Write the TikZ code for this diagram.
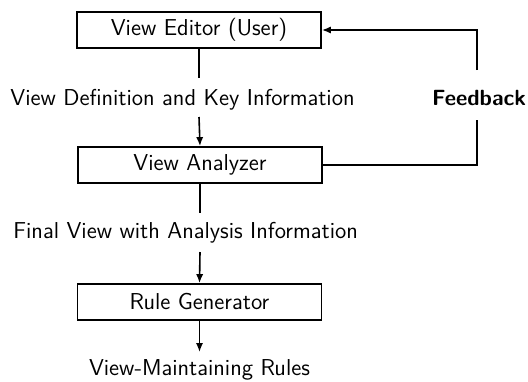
\documentclass[tikz,border=0pt]{standalone}
\usetikzlibrary{arrows.meta}
\begin{document}
\begin{tikzpicture}[x=0.5pt,y=-0.5pt,
  every node/.style={font=\fontsize{11.5}{14}\selectfont\sffamily},
  blk/.style={draw,line width=0.9pt,minimum width=122pt,minimum height=18pt,inner sep=0pt},
  lbl/.style={inner sep=0pt},
  conn/.style={line width=0.8pt},
  arr/.style={conn,-{Latex[length=4.5pt,width=3.6pt]}}]
\useasboundingbox (0,0) rectangle (528,381);
\node[blk] (ed) at (199,30) {View Editor (User)};
\node[blk] (an) at (200,165) {View Analyzer};
\node[blk] (rg) at (199.5,302) {Rule Generator};
\node[lbl,anchor=base west] (l1) at (10,105) {View Definition and Key Information};
\node[lbl,anchor=base,font=\fontsize{11}{14}\selectfont\sffamily\bfseries] (fb) at (479,105) {Feedback};
\node[lbl,anchor=base west] (l2) at (13,238) {Final View with Analysis Information};
\node[lbl,anchor=base] (l3) at (199.5,375) {View-Maintaining Rules};
\coordinate (a1) at (199,78);
\coordinate (a2) at (199,117);
\coordinate (b1) at (200,213);
\coordinate (b2) at (200,252);
\coordinate (f1) at (477,70);
\coordinate (f2) at (477,120);
\coordinate (r1) at (199.5,352);
\draw[conn] (ed.south) -- (a1);
\draw[arr] (a2) -- (an.north);
\draw[conn] (an.south) -- (b1);
\draw[arr] (b2) -- (rg.north);
\draw[arr] (rg.south) -- (r1);
\draw[conn] (an.east) -| (f2);
\draw[arr] (f1) |- (ed.east);
\end{tikzpicture}
\end{document}
